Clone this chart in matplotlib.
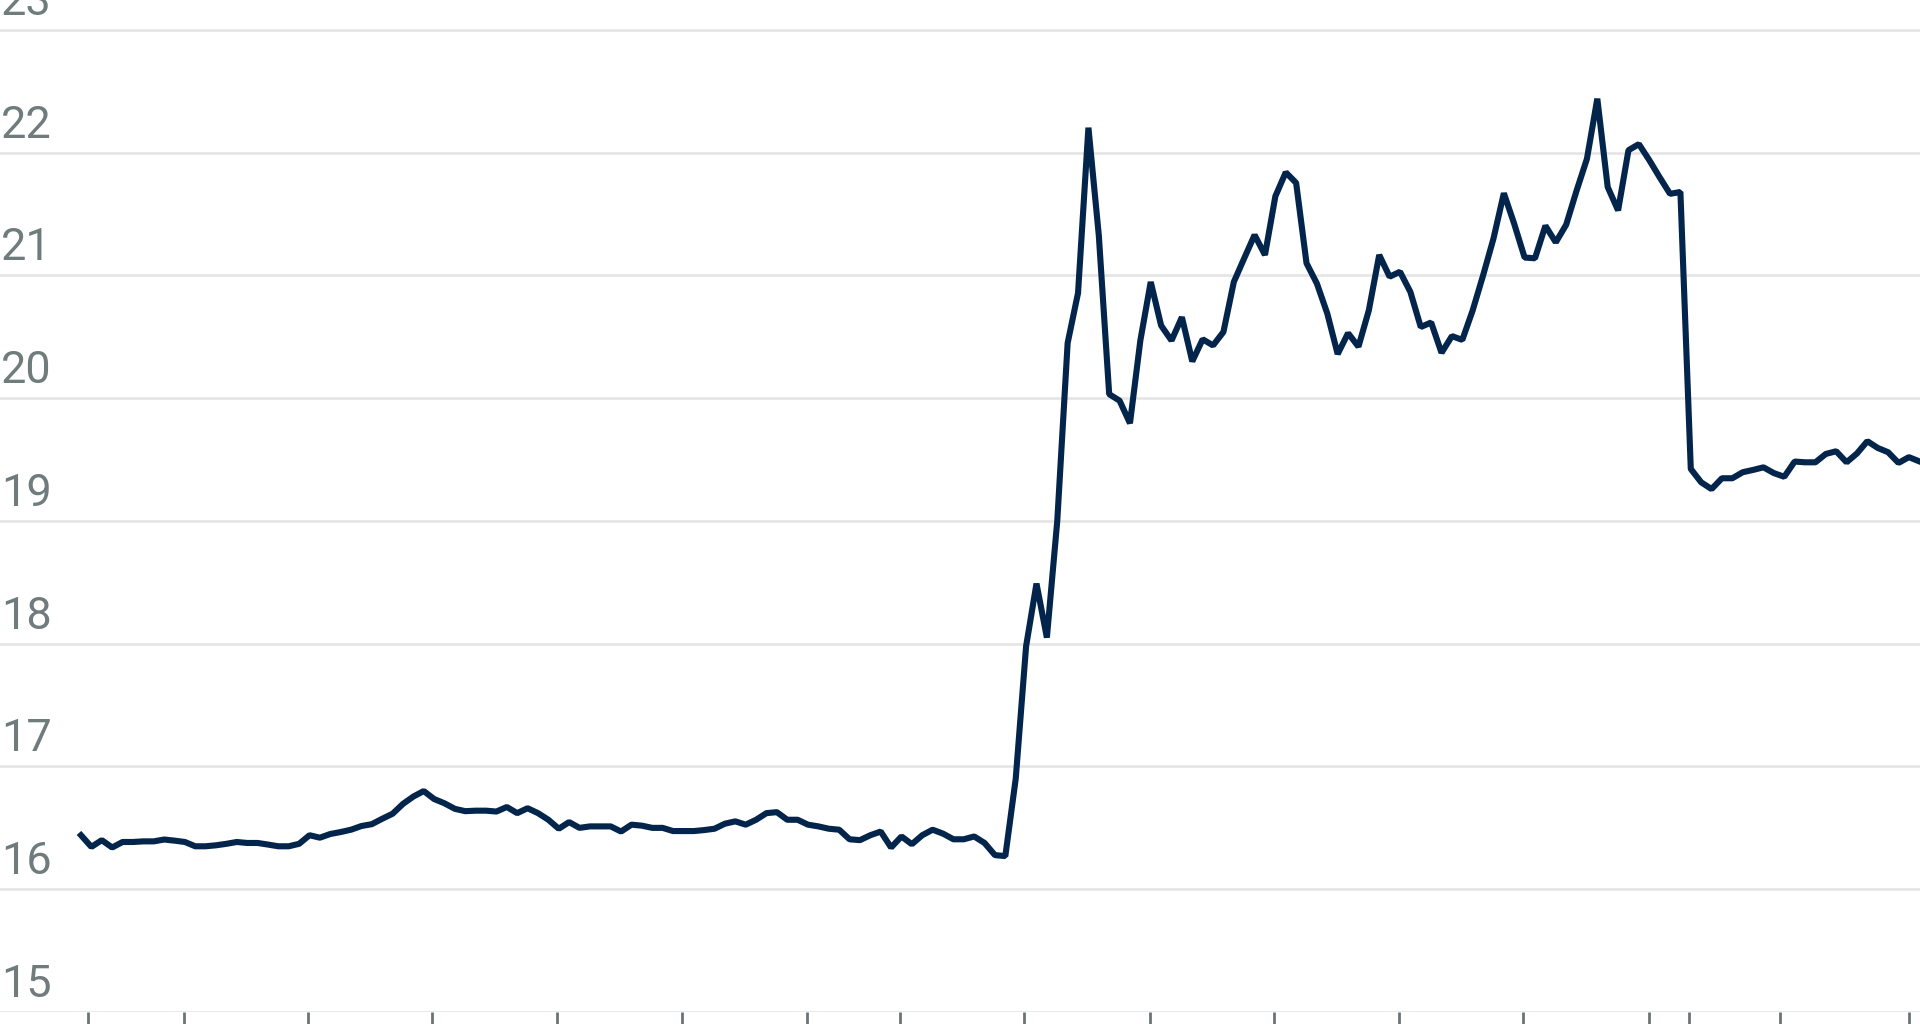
import numpy as np
import matplotlib
matplotlib.use("Agg")
import matplotlib.pyplot as plt
import matplotlib.transforms as mtransforms

# monthly values
vals = [16.44, 16.345, 16.40, 16.34, 16.385, 16.385, 16.39, 16.39, 16.405, 16.396,
        16.385, 16.35, 16.35, 16.358, 16.37, 16.385, 16.377, 16.377, 16.364, 16.35,
        16.35, 16.37, 16.44, 16.42, 16.45, 16.466, 16.485, 16.515, 16.53, 16.574,
        16.615, 16.695, 16.755, 16.80, 16.735, 16.70, 16.655, 16.636, 16.64, 16.64,
        16.633, 16.67, 16.62, 16.66, 16.62, 16.566, 16.493, 16.547, 16.50, 16.512,
        16.512, 16.512, 16.47, 16.526, 16.518, 16.50, 16.50, 16.474, 16.474, 16.474,
        16.482, 16.493, 16.534, 16.553, 16.526, 16.566, 16.62, 16.628, 16.566, 16.566,
        16.526, 16.512, 16.493, 16.485, 16.407, 16.40, 16.44, 16.47, 16.34, 16.43,
        16.367, 16.44, 16.485, 16.453, 16.407, 16.407, 16.43, 16.377, 16.278, 16.27,
        16.90, 17.98, 18.49, 18.05, 19.0, 20.45, 20.857, 22.204, 21.327, 20.033,
        19.98, 19.796, 20.47, 20.947, 20.592, 20.47, 20.66, 20.30, 20.48, 20.43,
        20.54, 20.947, 21.14, 21.33, 21.167, 21.645, 21.84, 21.754, 21.10, 20.934,
        20.69, 20.36, 20.53, 20.42, 20.716, 21.167, 20.99, 21.03, 20.866, 20.58,
        20.617, 20.37, 20.506, 20.475, 20.716, 21.0, 21.3, 21.67, 21.42, 21.146,
        21.14, 21.405, 21.27, 21.413, 21.69, 21.95, 22.44, 21.72, 21.53, 22.02,
        22.07, 21.94, 21.80, 21.665, 21.68, 19.424, 19.315, 19.26, 19.348, 19.348,
        19.397, 19.416, 19.437, 19.39, 19.36, 19.484, 19.478, 19.478, 19.546, 19.568,
        19.478, 19.55, 19.65, 19.595, 19.56, 19.473, 19.52, 19.486, 19.45]

yticks = [15, 16, 17, 18, 19, 20, 21, 22, 23]
ylabels = ["15", "16", "17", "18", "19", "20", "21", "22", "23"]
# x tick marks (in month index units)
xticks = [0.7, 9.9, 21.9, 33.8, 45.8, 57.9, 69.9, 78.9, 90.8, 102.9,
          114.9, 126.9, 138.8, 151.0, 154.8, 163.6, 176.0]

x = np.arange(len(vals))

fig = plt.figure(figsize=(19.2, 10.24), dpi=100)
ax = fig.add_axes([0, 12/1024, 1, 1012/1024])

for yt in yticks:
    ax.axhline(yt, color="#e5e5e5", lw=1.9, zorder=1)

ax.plot(x, vals, color="#03254c", lw=4.4, solid_joinstyle="bevel", zorder=3)

ax.set_xlim(-7.80, 177.07)
ax.set_ylim(15, 23.244)

for s in ax.spines.values():
    s.set_visible(False)

ax.set_yticks([])
ax.set_xticks(xticks)
ax.set_xticklabels([])
ax.tick_params(axis="x", direction="out", length=14, width=2.0, color="#6b7575")

# y labels sit above the gridlines, flush left
off = mtransforms.offset_copy(ax.get_yaxis_transform(), fig=fig, x=1, y=15, units="dots")
for yt, lab in zip(yticks, ylabels):
    ax.text(0, yt, lab, transform=off, ha="left", va="baseline",
            fontsize=32.4, family="Roboto", color="#707b7c")

fig.savefig("out.png", dpi=100)
